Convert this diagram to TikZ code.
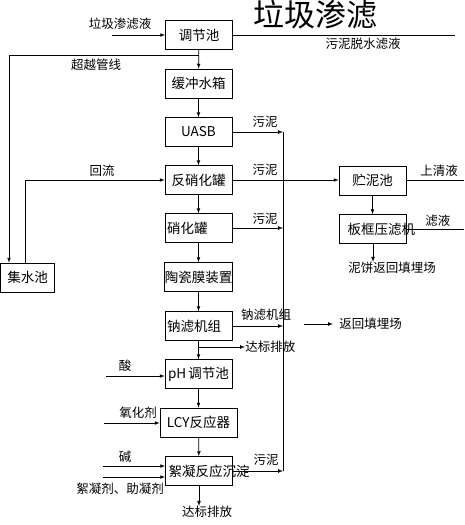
\documentclass[tikz,border=0pt]{standalone}
\usepackage{fontspec}
\setmainfont{Noto Sans CJK SC}
\usetikzlibrary{arrows,positioning,calc}

\begin{document}
\begin{tikzpicture}[x=1pt,y=-1pt,line width=0.7pt,>=latex,
unit/.style={draw,inner sep=0pt,minimum width=67pt,minimum height=29pt,font=\fontsize{13.5}{15}\selectfont},
unitl/.style={unit,inner xsep=2pt,text width=63pt,align=left},
utext/.style={inner sep=0pt,font=\fontsize{13.5}{15}\selectfont},
lbl/.style={inner sep=0pt,font=\fontsize{12.5}{14}\selectfont}
]
\useasboundingbox (0,0) rectangle (464,525);

% main treatment line
\node[unit] (tjc) at (199,35) {调节池};
\node[unit] (hc) at (198.5,83.5) {缓冲水箱};
\node[unit] (uasb) at (198.5,132) {UASB};
\node[unit] (fxh) at (198.5,180) {反硝化罐};
\node[unitl] (xh) at (198.5,228) {硝化罐};
\node[unit] (tc) at (198.5,277) {陶瓷膜装置};
\node[unitl] (nl) at (198.5,326) {钠滤机组};
\node[unit] (ph) at (198.5,374) {pH\,调节池};
\node[unit,minimum width=77pt] (lcy) at (198.5,422.5) {LCY反应器};
\node[unit] (xn) at (199,471) {};
\node[utext,anchor=west] (xnt) at ([xshift=3pt]xn.west) {絮凝反应沉淀};
\node[lbl] (dbpf) at (207,512) {达标排放};

\node[unit,minimum width=54pt] (jss) at (27.5,277.5) {集水池};
\node[unit] (zcc) at (372.5,180.5) {贮泥池};
\node[unit] (bk) at (373,229) {};
\node[utext,anchor=west] (bkt) at ([xshift=8pt]bk.west) {板框压滤机};

% title and top line
\node[inner sep=0pt,font=\fontsize{31}{33}\selectfont] (ttl) at (315,15) {垃圾渗滤};
\coordinate (src) at (112,35);
\node[lbl] (srct) at (120,24) {垃圾渗滤液};
\draw[->] (src) -- (tjc.west);
\coordinate (fl) at (455,35);
\draw (tjc.east) -- (fl);
\node[lbl] (flt) at (363,44) {污泥脱水滤液};

\draw[->] (tjc) -- (hc);
\draw[->] (hc) -- (uasb);
\draw[->] (uasb) -- (fxh);
\draw[->] (fxh) -- (xh);
\draw[->] (xh) -- (tc);
\draw[->] (tc) -- (nl);
\draw[->] (nl) -- (ph);
\draw[->] (ph) -- (lcy);
\draw[->] (lcy) -- (xn);
\draw[->] (xn.south) -- (xn.south |- dbpf.north);

% bypass and return
\coordinate (cy) at (198.5,55);
\coordinate (cyl) at (9,55);
\draw[->] (cy) -- (cyl) -- (cyl |- jss.north);
\node[lbl] (cyt) at (96,65) {超越管线};
\coordinate (hl) at (25,0);
\draw[->] (jss.north -| hl) -- (hl |- fxh.west) -- (fxh.west);
\node[lbl] (hlt) at (102,171) {回流};

% sludge
\coordinate (sl) at (283,0);
\draw[->] (uasb.east) -- (uasb.east -| sl);
\draw[->] (fxh.east) -- (fxh.east -| zcc.west);
\draw[->] (xh.east) -- (xh.east -| sl);
\draw[->] (nl.east) -- (nl.east -| sl);
\draw[->] (xn.east) -- (xn.east -| sl);
\draw (xn.east -| sl) -- (uasb.east -| sl);
\node[lbl] (s1) at (265,122) {污泥};
\node[lbl] (s2) at (265,170) {污泥};
\node[lbl] (s3) at (265,219) {污泥};
\node[lbl] (s4) at (266,315) {钠滤机组};
\node[lbl] (s5) at (266,460) {污泥};

\coordinate (fh) at (304,324);
\node[lbl,anchor=west] (fht) at (339,324) {返回填埋场};
\draw[->] (fh) -- ([xshift=-6pt]fht.west);
\coordinate (db1) at (198.5,347);
\node[lbl,anchor=west] (db1t) at (245,347) {达标排放};
\draw[->] (db1) -- (db1t.west);

% sludge treatment
\draw[->] (zcc.south) -- (zcc.south |- bk.north);
\node[lbl] (nb) at (392,268) {泥饼返回填埋场};
\draw[->] (bk.south) -- (bk.south |- nb.north);
\coordinate (re) at (464,0);
\draw (zcc.east) -- (zcc.east -| re);
\node[lbl,anchor=west] (sq) at (420,171) {上清液};
\draw (bk.east) -- (bk.east -| re);
\node[lbl,anchor=west] (ly) at (425,221) {滤液};

% dosing
\coordinate (acid) at (106,376);
\draw[->] (acid) -- (acid -| ph.west);
\node[lbl] (acidt) at (125,366) {酸};
\coordinate (ox) at (104,423);
\draw[->] (ox) -- (ox -| lcy.west);
\node[lbl] (oxt) at (138,413) {氧化剂};
\coordinate (alk) at (103,466);
\draw[->] (alk) -- (alk -| xn.west);
\node[lbl] (alkt) at (125,457) {碱};
\coordinate (flc) at (103,477);
\draw[->] (flc) -- (flc -| xn.west);
\node[lbl] (flct) at (120,489) {絮凝剂、助凝剂};
\end{tikzpicture}
\end{document}
